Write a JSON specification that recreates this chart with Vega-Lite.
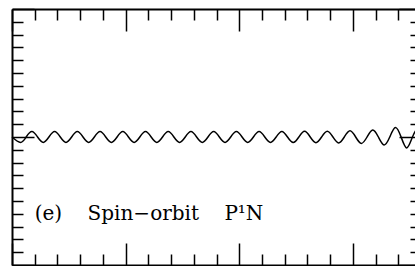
{
  "$schema": "https://vega.github.io/schema/vega-lite/v6.json",
  "width": 409,
  "height": 256,
  "autosize": "none",
  "padding": {"left": 12, "top": 9, "right": -6, "bottom": 1},
  "background": "white",
  "config": {
    "view": {"stroke": null},
    "axis": {"labels": false, "title": null, "grid": false, "domainColor": "black", "domainWidth": 2, "tickColor": "black", "tickWidth": 1.5}
  },
  "data": {
    "values": [
      {"x": 0, "y": 0}, {"x": 0.075, "y": -0.042}, {"x": 0.125, "y": 0}, {"x": 0.175, "y": 0.042},
      {"x": 0.225, "y": 0}, {"x": 0.275, "y": -0.042}, {"x": 0.325, "y": 0}, {"x": 0.375, "y": 0.042},
      {"x": 0.425, "y": 0}, {"x": 0.475, "y": -0.042}, {"x": 0.525, "y": 0}, {"x": 0.575, "y": 0.042},
      {"x": 0.625, "y": 0}, {"x": 0.675, "y": -0.042}, {"x": 0.725, "y": 0}, {"x": 0.775, "y": 0.042},
      {"x": 0.825, "y": 0}, {"x": 0.875, "y": -0.042}, {"x": 0.925, "y": 0}, {"x": 0.975, "y": 0.042},
      {"x": 1.025, "y": 0}, {"x": 1.075, "y": -0.042}, {"x": 1.125, "y": 0}, {"x": 1.175, "y": 0.042},
      {"x": 1.225, "y": 0}, {"x": 1.275, "y": -0.042}, {"x": 1.325, "y": 0}, {"x": 1.375, "y": 0.042},
      {"x": 1.425, "y": 0}, {"x": 1.475, "y": -0.042}, {"x": 1.525, "y": 0}, {"x": 1.575, "y": 0.042},
      {"x": 1.625, "y": 0}, {"x": 1.675, "y": -0.042}, {"x": 1.725, "y": 0}, {"x": 1.775, "y": 0.042},
      {"x": 1.825, "y": 0}, {"x": 1.875, "y": -0.042}, {"x": 1.925, "y": 0}, {"x": 1.975, "y": 0.042},
      {"x": 2.025, "y": 0}, {"x": 2.075, "y": -0.042}, {"x": 2.125, "y": 0}, {"x": 2.175, "y": 0.042},
      {"x": 2.225, "y": 0}, {"x": 2.275, "y": -0.042}, {"x": 2.325, "y": 0}, {"x": 2.375, "y": 0.043},
      {"x": 2.425, "y": 0}, {"x": 2.475, "y": -0.043}, {"x": 2.525, "y": 0}, {"x": 2.575, "y": 0.044},
      {"x": 2.625, "y": 0}, {"x": 2.675, "y": -0.044}, {"x": 2.725, "y": 0}, {"x": 2.775, "y": 0.045},
      {"x": 2.825, "y": 0}, {"x": 2.875, "y": -0.046}, {"x": 2.925, "y": 0}, {"x": 2.975, "y": 0.048},
      {"x": 3.025, "y": 0}, {"x": 3.075, "y": -0.05}, {"x": 3.125, "y": 0}, {"x": 3.175, "y": 0.055},
      {"x": 3.225, "y": 0}, {"x": 3.275, "y": -0.062}, {"x": 3.325, "y": 0}, {"x": 3.375, "y": 0.075},
      {"x": 3.425, "y": 0}, {"x": 3.475, "y": -0.085}, {"x": 3.525, "y": 0}, {"x": 3.575, "y": 0.07},
      {"x": 3.6, "y": 0.04}
    ]
  },
  "layer": [
    {
      "mark": {"type": "line", "color": "black", "strokeWidth": 1.5, "interpolate": "natural"},
      "encoding": {
        "x": {"field": "x", "type": "quantitative", "scale": {"domain": [0, 3.6], "nice": false, "zero": false},
              "axis": {"orient": "bottom", "values": [0, 1, 2, 3], "tickSize": -22, "domain": true}},
        "y": {"field": "y", "type": "quantitative", "scale": {"domain": [-1, 1], "nice": false, "zero": false},
              "axis": {"orient": "left", "values": [-1, 0, 1], "tickSize": -22, "domain": true}}
      }
    },
    {
      "mark": {"type": "line", "opacity": 0},
      "encoding": {
        "x": {"field": "x", "type": "quantitative",
              "axis": {"orient": "bottom", "values": [0.2, 0.4, 0.6, 0.8, 1.2, 1.4, 1.6, 1.8, 2.2, 2.4, 2.6, 2.8, 3.2, 3.4], "tickSize": -11, "domain": false}},
        "y": {"field": "y", "type": "quantitative",
              "axis": {"orient": "left", "values": [-0.9, -0.8, -0.7, -0.6, -0.5, -0.4, -0.3, -0.2, -0.1, 0.1, 0.2, 0.3, 0.4, 0.5, 0.6, 0.7, 0.8, 0.9], "tickSize": -11, "domain": false}}
      }
    },
    {
      "mark": {"type": "line", "opacity": 0},
      "encoding": {
        "x": {"field": "x", "type": "quantitative",
              "axis": {"orient": "top", "values": [0, 1, 2, 3], "tickSize": -22, "domain": true}},
        "y": {"field": "y", "type": "quantitative",
              "axis": {"orient": "right", "values": [-1, 0, 1], "tickSize": -22, "domain": true}}
      }
    },
    {
      "mark": {"type": "line", "opacity": 0},
      "encoding": {
        "x": {"field": "x", "type": "quantitative",
              "axis": {"orient": "top", "values": [0.2, 0.4, 0.6, 0.8, 1.2, 1.4, 1.6, 1.8, 2.2, 2.4, 2.6, 2.8, 3.2, 3.4], "tickSize": -11, "domain": false}},
        "y": {"field": "y", "type": "quantitative",
              "axis": {"orient": "right", "values": [-0.9, -0.8, -0.7, -0.6, -0.5, -0.4, -0.3, -0.2, -0.1, 0.1, 0.2, 0.3, 0.4, 0.5, 0.6, 0.7, 0.8, 0.9], "tickSize": -11, "domain": false}}
      }
    },
    {
      "data": {"values": [{"label": "(e)\u00a0\u00a0\u00a0\u00a0Spin−orbit\u00a0\u00a0\u00a0\u00a0P¹N"}]},
      "mark": {"type": "text", "font": "DejaVu Serif", "fontSize": 20, "color": "black", "align": "left", "baseline": "alphabetic"},
      "encoding": {
        "x": {"datum": 0.2, "type": "quantitative", "axis": null},
        "y": {"datum": -0.648, "type": "quantitative", "axis": null},
        "text": {"field": "label"}
      }
    }
  ],
  "resolve": {"axis": {"x": "independent", "y": "independent"}}
}
